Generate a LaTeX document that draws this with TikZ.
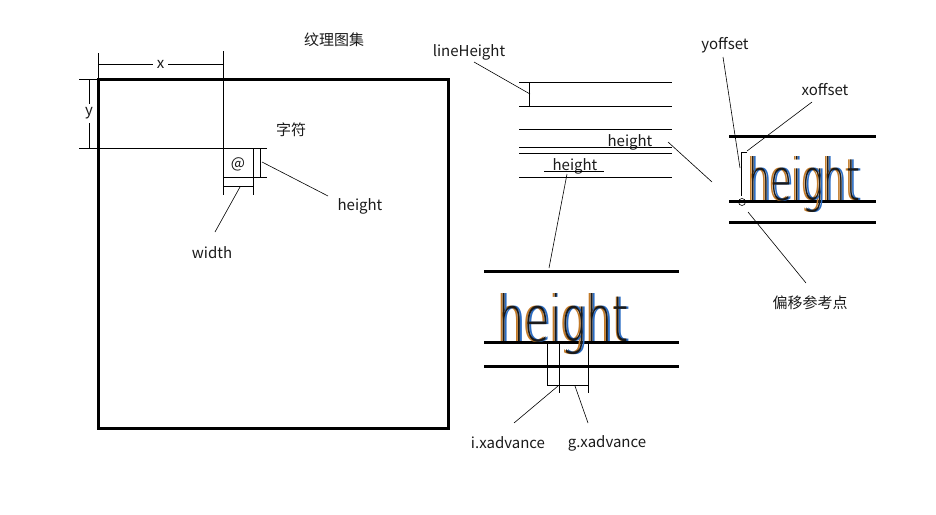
\documentclass[tikz,border=0pt]{standalone}
\usepackage{fontspec}
\setmainfont{Noto Sans CJK SC}
\newfontfamily\thinword{DejaVu Sans}[UprightFont={* ExtraLight}]
\usetikzlibrary{positioning}
\definecolor{figInk}{HTML}{1A1A1A}
\definecolor{figOrange}{HTML}{C27A28}
\definecolor{figBlue}{HTML}{2A6CC4}

% glyph run drawn with colour fringes: #1 name, #2 position, #3 width, #4 ascender
\newcommand\fringeword[4]{%
  \node[bigword, text=figOrange, xshift=-1.8] at #2 {\resizebox{#3pt}{#4pt}{\thinword height}};
  \node[bigword, text=figBlue, xshift=1.8] at #2 {\resizebox{#3pt}{#4pt}{\thinword height}};
  \node[bigword, text=figInk] (#1) at #2 {\resizebox{#3pt}{#4pt}{\thinword height}};
}

\begin{document}
\begin{tikzpicture}[
  x=1pt, y=-1pt,
  every node/.style={font=\fontsize{15}{17}\selectfont, text=figInk, inner sep=0pt},
  guide/.style={line width=0.9pt},
  heavy/.style={line width=3pt},
  leader/.style={line width=0.6pt},
  bigword/.style={anchor=base west, inner sep=0pt},
]
\useasboundingbox (0,0) rectangle (936,514);

% === texture atlas (left) ===
\node (title) at (334,40) {纹理图集};
\draw[heavy] (98,79) rectangle (448,428);

\draw[guide] (98,53) -- (98,79);
\draw[guide] (223,51) -- (223,195);
\draw[guide] (98,64) -- node[fill=white, inner xsep=4pt] (lbl-x) {x} (223,64);
\draw[guide] (79,79) -- (98,79);
\draw[guide] (79,148) -- (267,148);
\draw[guide] (89,79) -- node[fill=white, inner ysep=4pt] (lbl-y) {y} (89,148);

% character cell
\draw[guide] (223,177) -- (253,177);
\draw[guide] (253,148) -- (253,195);
\draw[guide] (223,186) -- (253,186);
\draw[guide] (260,148) -- (260,177);
\draw[guide] (253,177) -- (267,177);
\node (cell) at (238,164) {@};
\node (lbl-char) at (291,130) {字符};

\node (lbl-cellh) at (360,206) {height};
\node (lbl-cellw) at (212,253) {width};
\coordinate (cellh-from) at (262,162);
\coordinate (cellh-to) at (328,196);
\coordinate (cellw-from) at (240,187);
\coordinate (cellw-to) at (215,232);
\draw[leader] (cellh-from) -- (cellh-to);
\draw[leader] (cellw-from) -- (cellw-to);

% === line metrics (middle top) ===
\foreach \ly in {82,106,129,147,153,177}
  \draw[guide] (519,\ly) -- (672,\ly);
\draw[guide] (529,82) -- (529,106);
\node (lbl-lh) at (469,52) {lineHeight};
\coordinate (lh-from) at (474,62);
\coordinate (lh-to) at (530,94);
\draw[leader] (lh-from) -- (lh-to);

\node (lbl-h1) at (630,142) {height};
\coordinate (h1-from) at (668,142);
\coordinate (h1-to) at (712,182);
\draw[leader] (h1-from) -- (h1-to);

\node (lbl-h2) at (575,166) {height};
\draw[guide] (544,171) -- (604,171);
\coordinate (h2-from) at (567,174);
\coordinate (h2-to) at (549,268);
\draw[leader] (h2-from) -- (h2-to);

% === advance (middle bottom) ===
\foreach \ly in {271,342,366}
  \draw[heavy] (484,\ly) -- (679,\ly);
\fringeword{word-adv}{(498,341)}{131}{48}
\draw[guide] (547,343) -- (547,385);
\draw[guide] (559,343) -- (559,393);
\draw[guide] (588,343) -- (588,393);
\draw[guide] (547,385) -- (588,385);

\node (lbl-iadv) at (508,443) {i.xadvance};
\node (lbl-gadv) at (607,443) {g.xadvance};
\coordinate (iadv-from) at (558,386);
\coordinate (iadv-to) at (514,423);
\coordinate (gadv-from) at (575,386);
\coordinate (gadv-to) at (588,423);
\draw[leader] (iadv-from) -- (iadv-to);
\draw[leader] (gadv-from) -- (gadv-to);

% === offsets (right) ===
\foreach \ly in {136,201,222}
  \draw[heavy] (729,\ly) -- (876,\ly);
\fringeword{word-off}{(748,200)}{112}{44}
\draw[guide] (747,152) -- (741,152) -- (741,196);
\node[draw, circle, line width=0.6pt, minimum size=7pt] (origin) at (742,202) {};

\node (lbl-yoff) at (725,45) {yoffset};
\node (lbl-xoff) at (825,90) {xoffset};
\node (lbl-ref) at (810,303) {偏移参考点};
\coordinate (yoff-from) at (723,57);
\coordinate (yoff-to) at (740,168);
\coordinate (xoff-from) at (812,102);
\coordinate (xoff-to) at (747,151);
\coordinate (ref-to) at (806,283);
\draw[leader] (yoff-from) -- (yoff-to);
\draw[leader] (xoff-from) -- (xoff-to);
\draw[leader] ([shift={(6,10)}]origin.center) -- (ref-to);
\end{tikzpicture}
\end{document}
